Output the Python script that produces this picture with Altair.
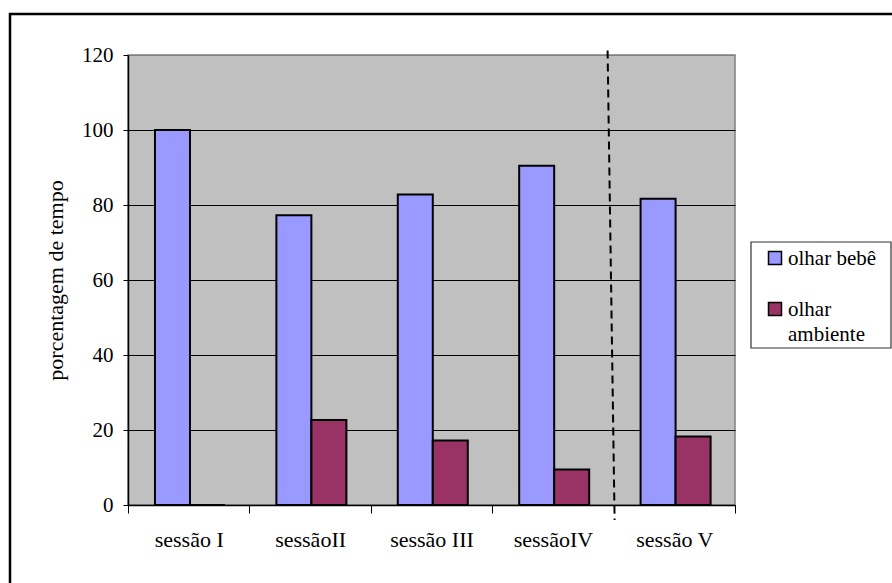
import altair as alt
import pandas as pd

# Session labels and the share of time (%) spent on each behaviour
sessions = ["sessão I", "sessãoII", "sessão III", "sessãoIV", "sessão V"]
olhar_bebe = [100, 77.3, 82.8, 90.5, 81.7]
olhar_ambiente = [0, 22.7, 17.2, 9.5, 18.3]
series = ["olhar bebê", "olhar ambiente"]
legend_text = ["olhar bebê", "olhar\nambiente"]
colors = ["#9999FF", "#993366"]
y_ticks = [0, 20, 40, 60, 80, 100, 120]

rows = []
for s, b, a in zip(sessions, olhar_bebe, olhar_ambiente):
    rows.append({"sessao": s, "serie": series[0], "valor": b})
    rows.append({"sessao": s, "serie": series[1], "valor": a})
df = pd.DataFrame(rows)

FONT = "Liberation Serif"
one_row = pd.DataFrame({"k": [0]})

x_enc = alt.X(
    "sessao:N",
    sort=sessions,
    title=None,
    scale=alt.Scale(paddingInner=0, paddingOuter=0),
    axis=alt.Axis(
        tickBand="extent",
        labelAngle=0,
        labelFont=FONT,
        labelFontSize=22,
        labelColor="black",
        labelPadding=16,
        tickColor="black",
        tickSize=8,
        domainColor="black",
        domainWidth=1.5,
        grid=False,
    ),
)

y_scale = alt.Scale(domain=[0, 120], nice=False)

bars = (
    alt.Chart(df)
    .mark_bar(stroke="black", strokeWidth=2)
    .encode(
        x=x_enc,
        xOffset=alt.XOffset(
            "serie:N",
            sort=series,
            scale=alt.Scale(paddingInner=0, paddingOuter=0.734, align=0.525),
        ),
        y=alt.Y(
            "valor:Q",
            scale=y_scale,
            title="porcentagem de tempo",
            axis=alt.Axis(
                values=y_ticks,
                labelFont=FONT,
                labelFontSize=21,
                labelColor="black",
                labelPadding=10,
                tickColor="black",
                tickSize=5,
                domainColor="black",
                domainWidth=1.5,
                gridColor={
                    "condition": {"test": "datum.value >= 120", "value": "#808080"},
                    "value": "black",
                },
                gridWidth=1.2,
                titleFont=FONT,
                titleFontSize=22,
                titleFontWeight="normal",
                titleColor="black",
                titleAngle=270,
                titleX=-73,
                titleY=225,
                titleAlign="center",
                titleBaseline="middle",
            ),
        ),
        color=alt.Color(
            "serie:N",
            sort=series,
            scale=alt.Scale(domain=series, range=colors),
            legend=None,
        ),
    )
)

# dashed separator before the last session
divider = (
    alt.Chart(one_row)
    .mark_rule(color="black", strokeWidth=2, strokeDash=[8, 5], xOffset=-6, x2Offset=1)
    .encode(
        x=alt.X(datum="sessão V", bandPosition=0),
        x2=alt.X2(datum="sessão V", bandPosition=0),
        y=alt.Y(datum=121.2),
        y2=alt.Y2(datum=-4),
    )
)

# frame around the whole figure
frame = (
    alt.Chart(one_row)
    .mark_rect(fillOpacity=0, stroke="black", strokeWidth=2.5)
    .encode(
        x=alt.value(-118),
        x2=alt.value(1200),
        y=alt.value(-41),
        y2=alt.value(1200),
    )
)

# legend box with one swatch and label per series
legend_layers = [
    alt.Chart(one_row)
    .mark_rect(fill="white", stroke="#333333", strokeWidth=1.2)
    .encode(x=alt.value(623), x2=alt.value(763), y=alt.value(187), y2=alt.value(293))
]
for i, (name, text, col) in enumerate(zip(series, legend_text, colors)):
    cy = 203 + 51 * i
    legend_layers.append(
        alt.Chart(one_row)
        .mark_square(size=169, fill=col, fillOpacity=1, stroke="black", strokeWidth=1.5)
        .encode(x=alt.value(647), y=alt.value(cy))
    )
    legend_layers.append(
        alt.Chart(one_row)
        .mark_text(
            text=text.split("\n"),
            font=FONT,
            fontSize=21,
            color="black",
            align="left",
            baseline="alphabetic",
            lineHeight=25,
        )
        .encode(x=alt.value(660), y=alt.value(cy + 7))
    )

chart = (
    alt.layer(bars, divider, frame, *legend_layers)
    .properties(
        width=607,
        height=450,
        autosize=alt.AutoSizeParams(type="none"),
        padding={"left": 128, "top": 55, "right": 157, "bottom": 78},
        background="white",
    )
    .configure(font=FONT)
    .configure_view(fill="#C0C0C0", stroke="#808080", strokeWidth=1.5)
)

chart.save("out.html", embed_options={"renderer": "svg", "actions": False})
